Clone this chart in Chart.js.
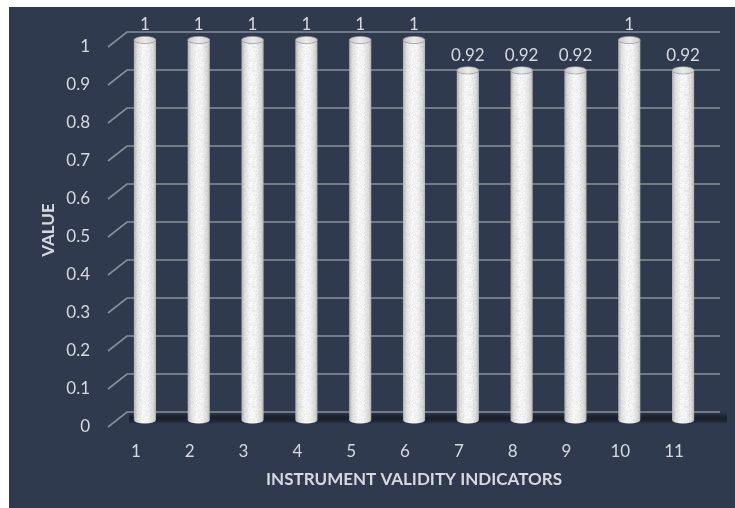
<!DOCTYPE html>
<html>
<head>
<meta charset="utf-8">
<script src="https://cdn.jsdelivr.net/npm/chart.js@4.4.1/dist/chart.umd.min.js"></script>
<style>
  html, body { margin: 0; padding: 0; background: #fff; }
  #wrap { width: 735px; height: 508px; }
</style>
</head>
<body>
<div id="wrap"><canvas id="chart"></canvas></div>
<script>
const indicators = ['1', '2', '3', '4', '5', '6', '7', '8', '9', '10', '11'];
const validity = [1, 1, 1, 1, 1, 1, 0.92, 0.92, 0.92, 1, 0.92];
const valueTicks = [0, 0.1, 0.2, 0.3, 0.4, 0.5, 0.6, 0.7, 0.8, 0.9, 1];

const BG = '#2f3a4e';
const TEXT = '#d6dae0';
// depth of the fake 3d box, relative to the plane the cylinders stand in
const BACK = { dx: 9, dy: -8 };
const FRONT = { dx: -10, dy: 7 };

Chart.defaults.font.family = 'Lato, "Open Sans", sans-serif';
Chart.defaults.color = TEXT;

// speckled texture for the cylinders (fixed seed so it is the same every run)
function speckle() {
  const c = document.createElement('canvas');
  c.width = 24; c.height = 24;
  const g = c.getContext('2d');
  let s = 12345;
  for (let yy = 0; yy < 24; yy++) {
    for (let xx = 0; xx < 24; xx++) {
      s = (s * 9301 + 49297) % 233280;
      const r = s / 233280;
      g.fillStyle = 'rgba(130,130,130,' + (r * 0.16).toFixed(3) + ')';
      g.fillRect(xx, yy, 1, 1);
    }
  }
  return c;
}
const speckCanvas = speckle();

const backdrop = {
  id: 'backdrop',
  beforeDraw(chart) {
    const { ctx, width, height } = chart;
    ctx.save();
    ctx.fillStyle = '#ffffff';
    ctx.fillRect(0, 0, width, height);
    ctx.fillStyle = BG;
    ctx.fillRect(9, 7, width - 9, height - 7);
    ctx.restore();
  }
};

const wall = {
  id: 'wall',
  beforeDatasetsDraw(chart) {
    const { ctx, chartArea: a, scales: { y } } = chart;
    ctx.save();
    // soft shadow on the floor behind the cylinder bases
    const y0 = y.getPixelForValue(0);
    const g = ctx.createLinearGradient(0, y0 + BACK.dy, 0, y0 + 4);
    g.addColorStop(0, 'rgba(16,20,30,0)');
    g.addColorStop(0.45, 'rgba(16,20,30,0.7)');
    g.addColorStop(0.75, 'rgba(16,20,30,0.55)');
    g.addColorStop(1, 'rgba(16,20,30,0)');
    ctx.fillStyle = g;
    ctx.fillRect(a.left + BACK.dx + 2, y0 + BACK.dy, a.right - a.left + 6, 12);

    ctx.strokeStyle = 'rgba(150,157,168,0.85)';
    ctx.lineWidth = 1.6;
    y.ticks.forEach(t => {
      const py = y.getPixelForValue(t.value);
      ctx.beginPath();
      ctx.moveTo(a.left + FRONT.dx, py + FRONT.dy);
      ctx.lineTo(a.left + BACK.dx, py + BACK.dy);
      ctx.lineTo(a.right + 10, py + BACK.dy);
      ctx.stroke();
    });
    ctx.restore();
  }
};

const cylinders = {
  id: 'cylinders',
  afterDatasetsDraw(chart) {
    const { ctx } = chart;
    const pattern = ctx.createPattern(speckCanvas, 'repeat');
    const meta = chart.getDatasetMeta(0);
    ctx.save();
    meta.data.forEach((bar, i) => {
      const { x, y, base, width } = bar.getProps(['x', 'y', 'base', 'width'], true);
      const l = x - width / 2, r = x + width / 2, ry = 3.6;
      const body = ctx.createLinearGradient(l, 0, r, 0);
      body.addColorStop(0, '#b4b4b4');
      body.addColorStop(0.15, '#e6e6e6');
      body.addColorStop(0.4, '#ffffff');
      body.addColorStop(0.65, '#fbfbfb');
      body.addColorStop(0.88, '#e0e0e0');
      body.addColorStop(1, '#b8b8b8');
      const outline = () => {
        ctx.beginPath();
        ctx.moveTo(l, y);
        ctx.lineTo(l, base);
        ctx.ellipse(x, base, width / 2, ry, 0, Math.PI, 0, true);
        ctx.lineTo(r, y);
        ctx.ellipse(x, y, width / 2, ry, 0, 0, Math.PI, false);
        ctx.closePath();
      };
      outline();
      ctx.fillStyle = body;
      ctx.fill();
      outline();
      ctx.fillStyle = pattern;
      ctx.fill();
      // top cap
      const cap = ctx.createLinearGradient(l, 0, r, 0);
      cap.addColorStop(0, '#c6c6c6');
      cap.addColorStop(0.5, '#ececec');
      cap.addColorStop(1, '#cccccc');
      ctx.beginPath();
      ctx.ellipse(x, y, width / 2, ry, 0, 0, Math.PI * 2);
      ctx.fillStyle = cap;
      ctx.fill();
      ctx.strokeStyle = 'rgba(160,160,160,0.8)';
      ctx.lineWidth = 0.8;
      ctx.stroke();
      // value label
      ctx.fillStyle = TEXT;
      ctx.font = '17px Lato, "Open Sans", sans-serif';
      ctx.textAlign = 'center';
      ctx.textBaseline = 'middle';
      ctx.fillText(String(validity[i]), x, y - 15);
    });
    ctx.restore();
  }
};

new Chart(document.getElementById('chart'), {
  type: 'bar',
  data: {
    labels: indicators,
    datasets: [{
      data: validity,
      backgroundColor: 'rgba(0,0,0,0)',
      borderWidth: 0,
      categoryPercentage: 1,
      barPercentage: 0.41
    }]
  },
  options: {
    responsive: true,
    maintainAspectRatio: false,
    animation: false,
    events: [],
    layout: { padding: { left: 30, right: 25, top: 40, bottom: 10 } },
    plugins: { legend: { display: false }, tooltip: { enabled: false } },
    scales: {
      x: {
        grid: { display: false, drawTicks: false },
        border: { display: false },
        ticks: { padding: 21, labelOffset: -9, font: { size: 17 }, color: TEXT },
        title: {
          display: true,
          text: 'INSTRUMENT VALIDITY INDICATORS',
          font: { size: 17, weight: 'bold' },
          color: TEXT,
          padding: { top: 4, bottom: 8 }
        },
        afterFit(scale) { scale.height = 78; }
      },
      y: {
        min: 0,
        max: 1,
        grid: { display: false, drawTicks: false },
        border: { display: false },
        afterBuildTicks(scale) { scale.ticks = valueTicks.map(v => ({ value: v })); },
        ticks: {
          padding: 28,
          labelOffset: 7,
          font: { size: 17 },
          color: TEXT,
          callback: v => String(v)
        },
        title: {
          display: true,
          text: 'VALUE',
          font: { size: 17, weight: 'bold' },
          color: TEXT,
          padding: { top: 8, bottom: 4 }
        },
        afterFit(scale) { scale.width = 88; }
      }
    }
  },
  plugins: [backdrop, wall, cylinders]
});
</script>
</body>
</html>
